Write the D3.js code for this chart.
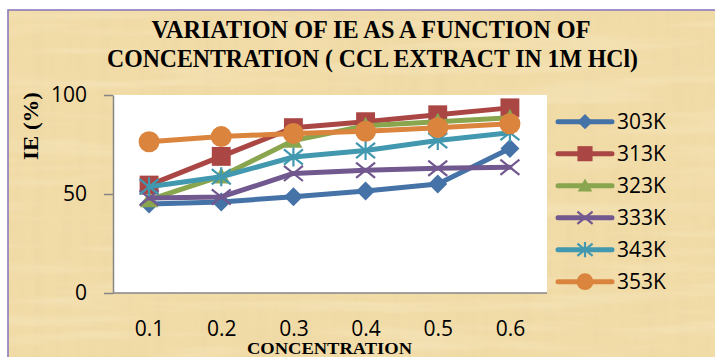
<!DOCTYPE html>
<html>
<head>
<meta charset="utf-8">
<script src="https://cdn.jsdelivr.net/npm/d3@7"></script>
<style>
  html, body { margin: 0; padding: 0; background: #ffffff; }
  svg { display: block; }
</style>
</head>
<body>
<svg id="chart" width="715" height="357"></svg>
<script>
// Concentration categories (x axis)
const categories = ["0.1", "0.2", "0.3", "0.4", "0.5", "0.6"];

// Inhibition efficiency (%) per temperature
const ie303 = [45, 46, 48.6, 51.5, 55, 73];
const ie313 = [54.5, 69, 83.5, 86.5, 90, 93.5];
const ie323 = [47, 59, 77, 84.5, 86.5, 88.5];
const ie333 = [48, 48.5, 60.4, 62, 63, 63.5];
const ie343 = [53.7, 58.7, 68.7, 72, 77, 81];
const ie353 = [76.4, 79, 80.6, 81.7, 83.5, 85.5];

const seriesNames = ["303K", "313K", "323K", "333K", "343K", "353K"];
const yTicks = [0, 50, 100];

const series = [
  { name: seriesNames[0], values: ie303, color: "#4572A7", marker: "diamond" },
  { name: seriesNames[1], values: ie313, color: "#AA4643", marker: "square" },
  { name: seriesNames[2], values: ie323, color: "#89A54E", marker: "triangle" },
  { name: seriesNames[3], values: ie333, color: "#71588F", marker: "x" },
  { name: seriesNames[4], values: ie343, color: "#4198AF", marker: "star" },
  { name: seriesNames[5], values: ie353, color: "#DB843D", marker: "circle" }
];

const svg = d3.select("#chart");
const defs = svg.append("defs");

// Parchment-like texture for the chart area
const f = defs.append("filter").attr("id", "paper")
  .attr("x", 0).attr("y", 0).attr("width", "100%").attr("height", "100%");
f.append("feTurbulence").attr("type", "fractalNoise")
  .attr("baseFrequency", "0.09 0.006").attr("numOctaves", 3).attr("seed", 4).attr("result", "v");
f.append("feColorMatrix").attr("in", "v").attr("type", "matrix")
  .attr("values", "0 0 0 0 0.80  0 0 0 0 0.66  0 0 0 0 0.38  1.1 0 0 0 -0.45").attr("result", "vc");
f.append("feTurbulence").attr("type", "fractalNoise")
  .attr("baseFrequency", "0.006 0.08").attr("numOctaves", 3).attr("seed", 9).attr("result", "h");
f.append("feColorMatrix").attr("in", "h").attr("type", "matrix")
  .attr("values", "0 0 0 0 0.99  0 0 0 0 0.93  0 0 0 0 0.74  1.1 0 0 0 -0.5").attr("result", "hc");
f.append("feMerge").call(m => {
  m.append("feMergeNode").attr("in", "vc");
  m.append("feMergeNode").attr("in", "hc");
});

// Chart area
svg.append("rect").attr("x", 8).attr("y", 10).attr("width", 720).attr("height", 360)
  .attr("fill", "#F1DBA6");
svg.append("rect").attr("x", 8).attr("y", 10).attr("width", 720).attr("height", 360)
  .attr("fill", "#F1DBA6").attr("filter", "url(#paper)").attr("opacity", 0.6);
svg.append("rect").attr("x", 8).attr("y", 10).attr("width", 720).attr("height", 360)
  .attr("fill", "none").attr("stroke", "#8C7BBE").attr("stroke-width", 1.6);

// Title
const title = svg.append("g")
  .attr("font-family", "'Liberation Serif', 'Times New Roman', serif")
  .attr("font-weight", "bold").attr("font-size", 26).attr("fill", "#000");
title.append("text").attr("x", 371).attr("y", 37.5).attr("text-anchor", "middle")
  .attr("textLength", 439).attr("lengthAdjust", "spacingAndGlyphs")
  .text("VARIATION OF IE AS A FUNCTION OF");
title.append("text").attr("x", 372.5).attr("y", 66.5).attr("text-anchor", "middle")
  .attr("textLength", 531).attr("lengthAdjust", "spacingAndGlyphs")
  .text("CONCENTRATION ( CCL EXTRACT IN 1M HCl)");

// Plot area
const plot = { left: 113, right: 546, top: 95, bottom: 293 };
svg.append("rect").attr("x", plot.left).attr("y", plot.top)
  .attr("width", plot.right - plot.left + 1).attr("height", plot.bottom - plot.top)
  .attr("fill", "#ffffff");

const x = d3.scalePoint().domain(categories).range([plot.left, plot.right]).padding(0.5);
const y = d3.scaleLinear().domain([0, 100]).range([plot.bottom, plot.top]);

// Y axis
const yAxis = svg.append("g").attr("transform", `translate(${plot.left},0)`)
  .call(d3.axisLeft(y).tickValues(yTicks).tickSize(9).tickPadding(17).tickSizeOuter(0));
yAxis.select(".domain").attr("stroke", "#868686").attr("stroke-width", 1.5);
yAxis.selectAll(".tick line").attr("stroke", "#868686").attr("stroke-width", 1.5);
yAxis.selectAll(".tick text").attr("font-family", "'Open Sans', sans-serif")
  .attr("font-size", 21).attr("fill", "#000");

// X axis
const xAxis = svg.append("g").attr("transform", `translate(0,${plot.bottom})`)
  .call(d3.axisBottom(x).tickSize(0).tickPadding(28).tickSizeOuter(0));
xAxis.select(".domain").attr("d", `M${plot.left},0H${plot.right + 1}`)
  .attr("stroke", "#868686").attr("stroke-width", 1.5);
xAxis.selectAll(".tick text").attr("font-family", "'Open Sans', sans-serif")
  .attr("font-size", 21).attr("fill", "#000");

// Axis titles
svg.append("text").attr("x", 329.5).attr("y", 354)
  .attr("text-anchor", "middle")
  .attr("font-family", "'Liberation Serif', 'Times New Roman', serif")
  .attr("font-weight", "bold").attr("font-size", 16)
  .attr("textLength", 165).attr("lengthAdjust", "spacingAndGlyphs")
  .text("CONCENTRATION");
svg.append("text").attr("transform", "translate(38,126) rotate(-90)")
  .attr("text-anchor", "middle")
  .attr("font-family", "'Liberation Serif', 'Times New Roman', serif")
  .attr("font-weight", "bold").attr("font-size", 20)
  .attr("textLength", 68).attr("lengthAdjust", "spacingAndGlyphs")
  .text("IE (%)");

// Marker drawing
function drawMarker(g, type, color, s) {
  const h = s / 2;
  if (type === "diamond") {
    g.append("path").attr("d", `M0,${-h}L${h},0L0,${h}L${-h},0Z`).attr("fill", color);
  } else if (type === "square") {
    g.append("rect").attr("x", -h * 0.9).attr("y", -h * 0.9).attr("width", s * 0.9).attr("height", s * 0.9)
      .attr("fill", color);
  } else if (type === "triangle") {
    g.append("path").attr("d", `M0,${-h}L${h},${h * 0.8}L${-h},${h * 0.8}Z`).attr("fill", color);
  } else if (type === "circle") {
    g.append("circle").attr("r", h).attr("fill", color);
  } else if (type === "x") {
    g.append("path").attr("d", `M${-h},${-h * 0.8}L${h},${h * 0.8}M${-h},${h * 0.8}L${h},${-h * 0.8}`)
      .attr("stroke", color).attr("stroke-width", 2.2).attr("fill", "none");
  } else if (type === "star") {
    g.append("path").attr("d", `M${-h},${-h * 0.8}L${h},${h * 0.8}M${-h},${h * 0.8}L${h},${-h * 0.8}M0,${-h}L0,${h}`)
      .attr("stroke", color).attr("stroke-width", 2.2).attr("fill", "none");
  }
}

const markerSize = { diamond: 19, square: 21, triangle: 18, circle: 21, x: 19, star: 19 };

// Lines and markers
const line = d3.line().x((d, i) => x(categories[i])).y(d => y(d));
series.forEach(s => {
  const g = svg.append("g");
  g.append("path").datum(s.values).attr("d", line)
    .attr("fill", "none").attr("stroke", s.color).attr("stroke-width", 5)
    .attr("stroke-linejoin", "round").attr("stroke-linecap", "round");
  s.values.forEach((v, i) => {
    const mg = g.append("g").attr("transform", `translate(${x(categories[i])},${y(v)})`);
    drawMarker(mg, s.marker, s.color, markerSize[s.marker]);
  });
});

// Legend
const legend = svg.append("g");
series.forEach((s, i) => {
  const cy = 121.7 + i * 32;
  const lg = legend.append("g");
  lg.append("line").attr("x1", 558).attr("x2", 612).attr("y1", cy).attr("y2", cy)
    .attr("stroke", s.color).attr("stroke-width", 5).attr("stroke-linecap", "round");
  const mg = lg.append("g").attr("transform", `translate(585,${cy})`);
  drawMarker(mg, s.marker, s.color, markerSize[s.marker] * 0.8);
  lg.append("text").attr("x", 617).attr("y", cy).attr("dy", "0.36em")
    .attr("font-family", "'Open Sans', sans-serif").attr("font-size", 21).attr("fill", "#000")
    .text(s.name);
});
</script>
</body>
</html>
